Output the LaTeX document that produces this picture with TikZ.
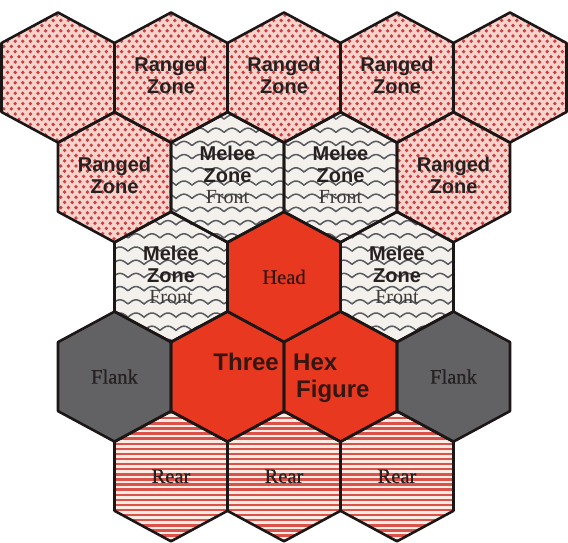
\documentclass[tikz,border=0pt]{standalone}
\usepackage{fontspec}
\setmainfont{Liberation Serif}
\setsansfont{Liberation Sans}
\newfontfamily\partfont{Liberation Serif}[FakeBold=0.5]
\usetikzlibrary{positioning}

\definecolor{hexline}{RGB}{28,22,22}
\definecolor{ink}{RGB}{38,32,32}
\definecolor{frontink}{RGB}{62,58,58}
\definecolor{redink}{RGB}{52,22,18}
\definecolor{rangedbg}{RGB}{246,212,204}
\definecolor{dotred}{RGB}{204,62,66}
\definecolor{meleebg}{RGB}{244,241,236}
\definecolor{wavegray}{RGB}{88,90,96}
\definecolor{headred}{RGB}{233,56,32}
\definecolor{flankgray}{RGB}{98,98,100}
\definecolor{rearbg}{RGB}{252,236,228}
\definecolor{stripered}{RGB}{218,82,74}

\newcommand{\hexcell}[1]{([shift={(#1)}]-56.5,-34.5) -- ([shift={(#1)}]-56.5,34.5) -- ([shift={(#1)}]0,65) -- ([shift={(#1)}]56.5,34.5) -- ([shift={(#1)}]56.5,-34.5) -- ([shift={(#1)}]0,-65) -- cycle}

\begin{document}
\begin{tikzpicture}[x=1pt, y=-1pt,
  hexedge/.style={draw=hexline, line width=2.6pt, line join=round},
  zonetxt/.style={font=\sffamily\bfseries\fontsize{20}{21.5}\selectfont, text=ink, align=center, inner sep=0pt, yshift=2pt},
  parttxt/.style={font=\partfont\fontsize{20.5}{22}\selectfont, text=ink, inner sep=0pt},
  figtxt/.style={font=\sffamily\bfseries\fontsize{24}{27}\selectfont, text=redink, inner sep=0pt},
  wave/.style={draw=wavegray, line width=1.5pt},
  stripe/.style={draw=stripered, line width=2.4pt},
]
  \useasboundingbox[fill=white] (0,0) rectangle (568,542);

  \coordinate (rz1) at (58,77.5);
  \coordinate (rz2) at (171,77.5);
  \coordinate (rz3) at (284,77.5);
  \coordinate (rz4) at (397,77.5);
  \coordinate (rz5) at (510,77.5);
  \coordinate (rz6) at (114.5,177.2);
  \coordinate (mz1) at (227.5,177.2);
  \coordinate (mz2) at (340.5,177.2);
  \coordinate (rz7) at (453.5,177.2);
  \coordinate (mz3) at (171,276.9);
  \coordinate (head) at (284,276.9);
  \coordinate (mz4) at (397,276.9);
  \coordinate (fl1) at (114.5,376.6);
  \coordinate (three) at (227.5,376.6);
  \coordinate (hex) at (340.5,376.6);
  \coordinate (fl2) at (453.5,376.6);
  \coordinate (rr1) at (171,476.3);
  \coordinate (rr2) at (284,476.3);
  \coordinate (rr3) at (397,476.3);

  \fill[rangedbg] \hexcell{rz1} \hexcell{rz2} \hexcell{rz3} \hexcell{rz4} \hexcell{rz5} \hexcell{rz6} \hexcell{rz7};
  \begin{scope}
    \clip \hexcell{rz1} \hexcell{rz2} \hexcell{rz3} \hexcell{rz4} \hexcell{rz5} \hexcell{rz6} \hexcell{rz7};
    \foreach \j [evaluate=\j as \off using {mod(\j,2)*3.8}] in {0,...,46}
      \foreach \i in {0,...,75}
        \fill[dotred] (\i*7.6+\off, 10+\j*5.2) circle[radius=1.9];
  \end{scope}

  \fill[meleebg] \hexcell{mz1} \hexcell{mz2} \hexcell{mz3} \hexcell{mz4};
  \begin{scope}
    \clip \hexcell{mz1} \hexcell{mz2} \hexcell{mz3} \hexcell{mz4};
    \foreach \j in {0,...,19}
      \draw[wave] plot[domain=50:460, samples=450] (\x, {106+\j*13.2-4.2*abs(sin((\x/16)*180))});
  \end{scope}

  \fill[headred] \hexcell{head} \hexcell{three} \hexcell{hex};
  \fill[flankgray] \hexcell{fl1} \hexcell{fl2};

  \fill[rearbg] \hexcell{rr1} \hexcell{rr2} \hexcell{rr3};
  \begin{scope}
    \clip \hexcell{rr1} \hexcell{rr2} \hexcell{rr3};
    \foreach \k in {0,...,27}
      \draw[stripe] (100, 408+\k*5.1) -- (470, 408+\k*5.1);
  \end{scope}

  \foreach \c in {rz1,rz2,rz3,rz4,rz5,rz6,mz1,mz2,rz7,mz3,head,mz4,fl1,three,hex,fl2,rr1,rr2,rr3}
    \draw[hexedge] \hexcell{\c};

  \node[zonetxt] (rz2t) at (rz2) {Ranged\\Zone};
  \node[zonetxt] (rz3t) at (rz3) {Ranged\\Zone};
  \node[zonetxt] (rz4t) at (rz4) {Ranged\\Zone};
  \node[zonetxt] (rz6t) at (rz6) {Ranged\\Zone};
  \node[zonetxt] (rz7t) at (rz7) {Ranged\\Zone};
  \node[zonetxt] (mz1t) at (mz1) {Melee\\Zone\\\textcolor{frontink}{\textnormal{Front}}};
  \node[zonetxt] (mz2t) at (mz2) {Melee\\Zone\\\textcolor{frontink}{\textnormal{Front}}};
  \node[zonetxt] (mz3t) at (mz3) {Melee\\Zone\\\textcolor{frontink}{\textnormal{Front}}};
  \node[zonetxt] (mz4t) at (mz4) {Melee\\Zone\\\textcolor{frontink}{\textnormal{Front}}};
  \node[parttxt, text=redink] (headt) at (head) {Head};
  \node[parttxt] (fl1t) at (fl1) {Flank};
  \node[parttxt] (fl2t) at (fl2) {Flank};
  \node[parttxt] (rr1t) at (rr1) {Rear};
  \node[parttxt] (rr2t) at (rr2) {Rear};
  \node[parttxt] (rr3t) at (rr3) {Rear};
  \node[figtxt, anchor=base east] (threet) at ([shift={(51.5,-6.6)}]three) {Three};
  \node[figtxt, anchor=base west] (hext) at ([shift={(-47.5,-6.6)}]hex) {Hex};
  \node[figtxt, anchor=base west] (figt) at ([shift={(3,27)}]hext.base west) {Figure};
\end{tikzpicture}
\end{document}
